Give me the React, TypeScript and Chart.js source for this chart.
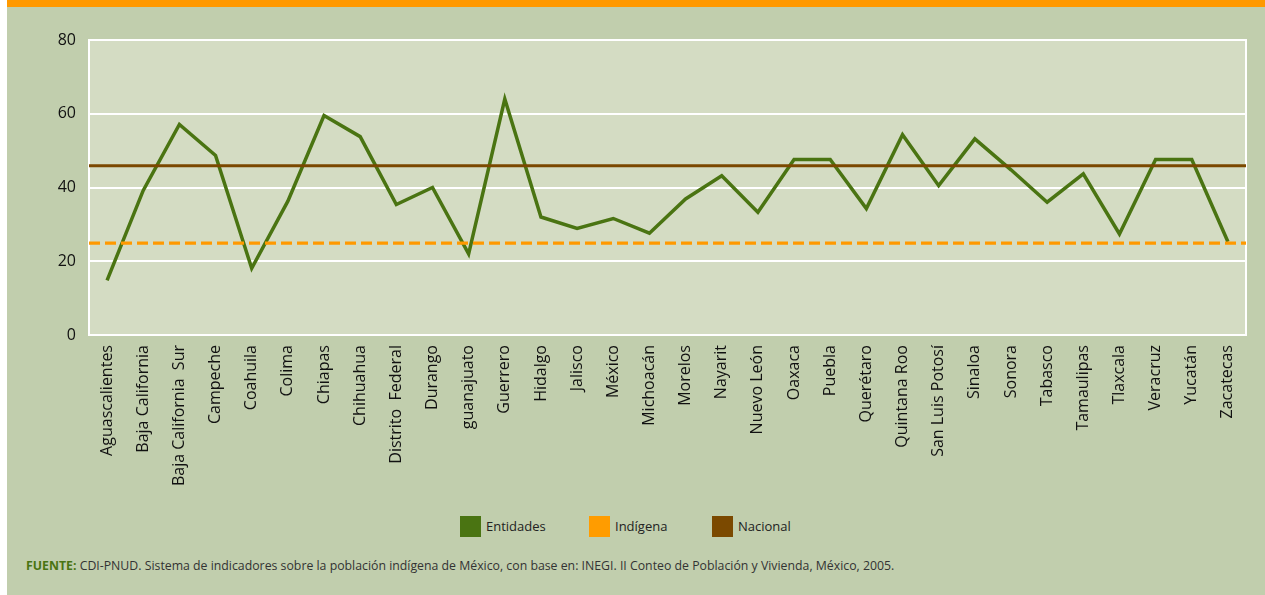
import React, { useEffect, useRef } from "react";
import { Chart, registerables } from "chart.js";

Chart.register(...registerables);

const categories = [
  "Aguascalientes", "Baja California", "Baja California  Sur", "Campeche", "Coahuila",
  "Colima", "Chiapas", "Chihuahua", "Distrito  Federal", "Durango", "guanajuato",
  "Guerrero", "Hidalgo", "Jalisco", "México", "Michoacán", "Morelos", "Nayarit",
  "Nuevo León", "Oaxaca", "Puebla", "Querétaro", "Quintana Roo", "San Luis Potosí",
  "Sinaloa", "Sonora", "Tabasco", "Tamaulipas", "Tlaxcala", "Veracruz", "Yucatán", "Zacatecas",
];

const entidades = [
  14.8, 39.2, 57.1, 48.7, 18.1, 36.3, 59.5, 53.8, 35.4, 40.0, 22.0,
  64.0, 32.0, 28.9, 31.6, 27.6, 36.9, 43.2, 33.3, 47.6, 47.6, 34.3,
  54.3, 40.5, 53.2, 44.8, 36.0, 43.7, 27.4, 47.6, 47.6, 25.3,
];

const indigenaValue = 24.9;
const nacionalValue = 45.9;

const yTicks = [0, 20, 40, 60, 80];

const legendItems = [
  { label: "Entidades", color: "#4a7412" },
  { label: "Indígena", color: "#ff9c00" },
  { label: "Nacional", color: "#7b4900" },
];

const FONT = "'Open Sans', sans-serif";

const plotBgPlugin = {
  id: "plotBg",
  beforeDraw(chart: any) {
    const { ctx, chartArea } = chart;
    ctx.save();
    ctx.fillStyle = "#d4dcc3";
    ctx.fillRect(chartArea.left, chartArea.top, chartArea.right - chartArea.left, chartArea.bottom - chartArea.top);
    ctx.restore();
  },
  beforeDatasetsDraw(chart: any) {
    const { ctx, chartArea } = chart;
    ctx.save();
    ctx.strokeStyle = "#ffffff";
    ctx.lineWidth = 2;
    ctx.strokeRect(chartArea.left, chartArea.top, chartArea.right - chartArea.left, chartArea.bottom - chartArea.top);
    ctx.restore();
  },
};

export default function App() {
  const canvasRef = useRef<HTMLCanvasElement | null>(null);

  useEffect(() => {
    if (!canvasRef.current) return;
    const chart = new Chart(canvasRef.current, {
      type: "line",
      data: {
        labels: categories,
        datasets: [
          {
            label: "Entidades",
            data: entidades,
            borderColor: "#4a7412",
            backgroundColor: "#4a7412",
            borderWidth: 3.5,
            pointRadius: 0,
            tension: 0,
            order: 3,
            xAxisID: "x",
          },
          {
            label: "Indígena",
            data: [{ x: 0, y: indigenaValue }, { x: 1, y: indigenaValue }] as any,
            borderColor: "#ff9900",
            backgroundColor: "#ff9900",
            borderWidth: 3.3,
            borderDash: [11, 5],
            pointRadius: 0,
            order: 2,
            xAxisID: "x2",
          },
          {
            label: "Nacional",
            data: [{ x: 0, y: nacionalValue }, { x: 1, y: nacionalValue }] as any,
            borderColor: "#7b4800",
            backgroundColor: "#7b4800",
            borderWidth: 3.2,
            pointRadius: 0,
            order: 1,
            xAxisID: "x2",
          },
        ],
      },
      options: {
        animation: false,
        responsive: false,
        maintainAspectRatio: false,
        layout: { padding: { left: 0, top: 33, right: 19, bottom: 0 } },
        plugins: {
          legend: { display: false },
          tooltip: { enabled: false },
        },
        scales: {
          x: {
            type: "category",
            offset: true,
            grid: { display: false, drawTicks: false },
            border: { display: false },
            ticks: {
              autoSkip: false,
              maxRotation: 90,
              minRotation: 90,
              padding: 10,
              color: "#111111",
              font: { family: FONT, size: 16 },
            },
            afterFit(scale: any) {
              scale.height = 172;
            },
          },
          x2: {
            type: "linear",
            display: false,
            min: 0,
            max: 1,
          },
          y: {
            min: 0,
            max: 80,
            afterBuildTicks(scale: any) {
              scale.ticks = yTicks.map((v) => ({ value: v }));
            },
            grid: { color: "#ffffff", lineWidth: 2, drawTicks: false },
            border: { display: false },
            ticks: {
              padding: 13,
              color: "#111111",
              font: { family: FONT, size: 16 },
            },
            afterFit(scale: any) {
              scale.width = 82;
            },
          },
        },
      },
      plugins: [plotBgPlugin],
    });
    return () => chart.destroy();
  }, []);

  return (
    <div
      style={{
        position: "absolute",
        left: 7,
        top: 0,
        width: 1258,
        height: 595,
        background: "#c1cead",
        overflow: "hidden",
      }}
    >
      <div style={{ position: "absolute", left: 0, top: 0, width: 1258, height: 7, background: "#ff9900" }} />
      <canvas
        ref={canvasRef}
        width={1258}
        height={500}
        style={{ position: "absolute", left: 0, top: 7, width: 1258, height: 500 }}
      />
      {legendItems.map((item, i) => {
        const boxX = [460, 589, 712][i] - 7;
        return (
          <div key={item.label}>
            <div
              style={{
                position: "absolute",
                left: boxX,
                top: 516,
                width: 21,
                height: 21,
                background: item.color,
              }}
            />
            <div
              style={{
                position: "absolute",
                left: boxX + 26,
                top: 516,
                height: 21,
                lineHeight: "21px",
                fontFamily: FONT,
                fontSize: 13,
                color: "#222222",
                whiteSpace: "nowrap",
              }}
            >
              {item.label}
            </div>
          </div>
        );
      })}
      <div
        style={{
          position: "absolute",
          left: 19,
          top: 557,
          fontFamily: FONT,
          fontSize: 12.3,
          lineHeight: "17px",
          color: "#333333",
          whiteSpace: "nowrap",
        }}
      >
        <span style={{ color: "#4a7412", fontWeight: 700 }}>FUENTE:</span> CDI-PNUD. Sistema de indicadores sobre la
        población indígena de México, con base en: INEGI. II Conteo de Población y Vivienda, México, 2005.
      </div>
    </div>
  );
}
